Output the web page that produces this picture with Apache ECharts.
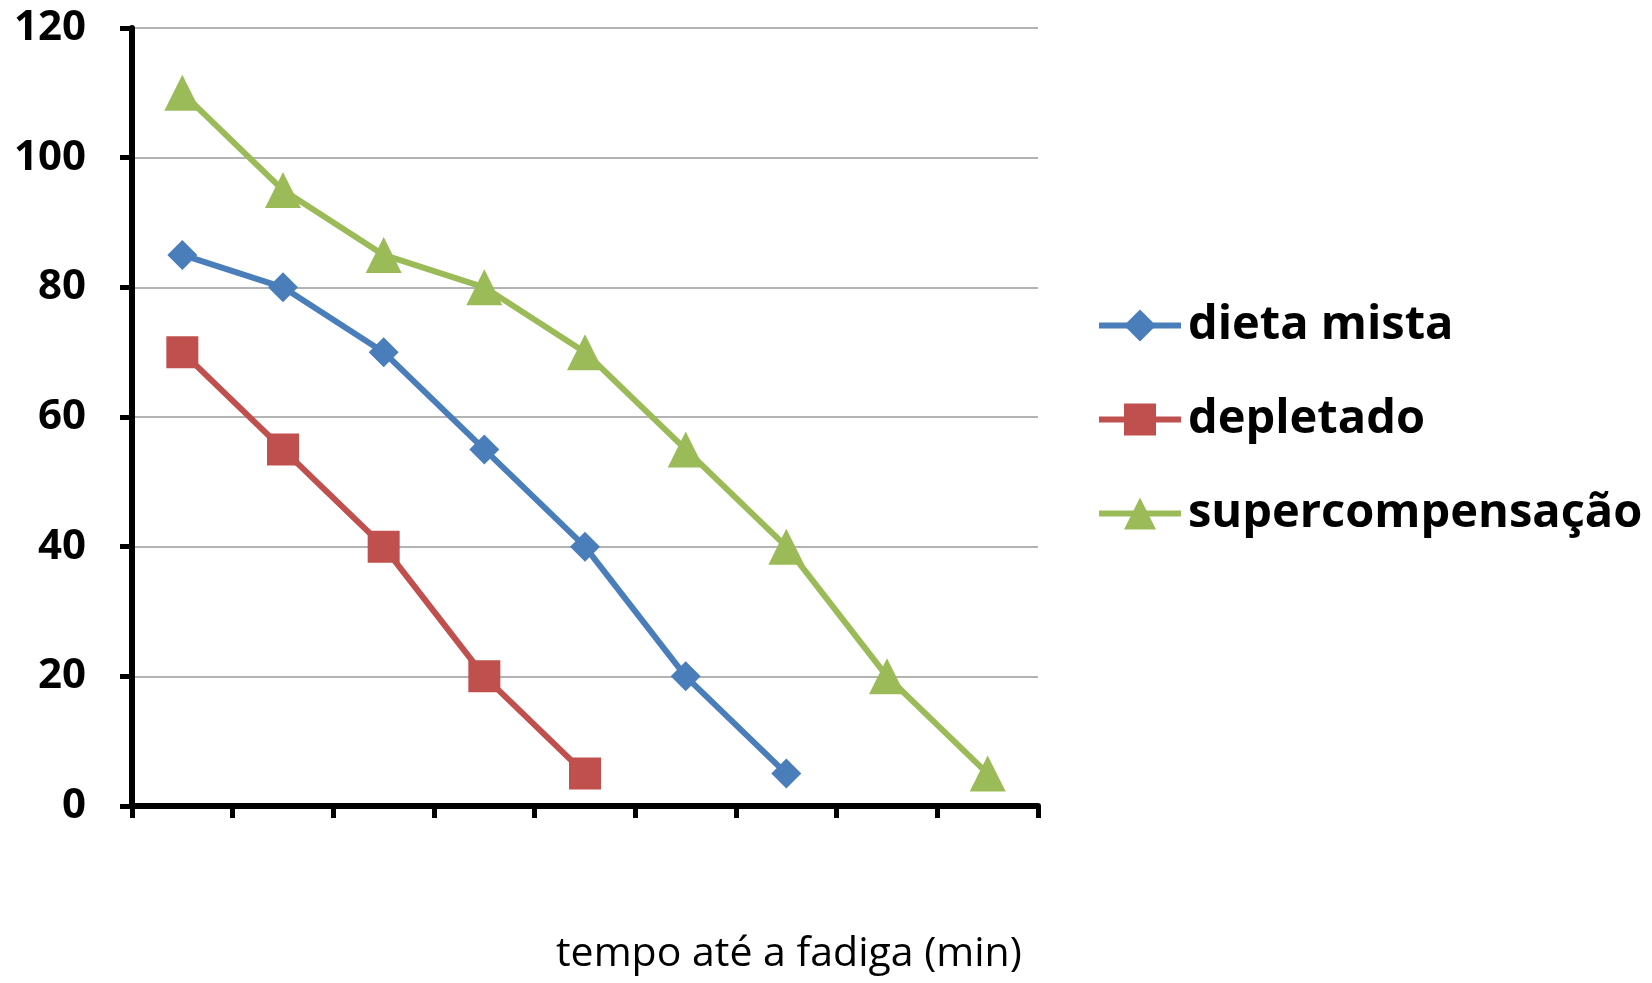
<!DOCTYPE html>
<html>
<head>
<meta charset="utf-8">
<style>
  html, body { margin: 0; padding: 0; background: #fff; }
  #chart { width: 1652px; height: 983px; }
</style>
<script src="https://cdn.jsdelivr.net/npm/echarts@6/dist/echarts.min.js"></script>
</head>
<body>
<div id="chart"></div>
<script>
// Nine time intervals on the x axis (no printed labels)
const categories = ['', '', '', '', '', '', '', '', ''];
// Series values per interval
const dietaMista = [85, 80, 70, 55, 40, 20, 5];
const depletado = [70, 55, 40, 20, 5];
const supercompensacao = [110, 95, 85, 80, 70, 55, 40, 20, 5];
// Value axis ticks
const yTicks = [0, 20, 40, 60, 80, 100, 120];
const xAxisTitle = 'tempo até a fadiga (min)';

const FONT = '"Open Sans", "Noto Sans", sans-serif';

const chart = echarts.init(document.getElementById('chart'), null, { renderer: 'canvas' });

function lineSeries(name, data, color, symbol, size) {
  return {
    name: name,
    type: 'line',
    data: data,
    symbol: symbol,
    symbolSize: size,
    showAllSymbol: true,
    lineStyle: { color: color, width: 6 },
    itemStyle: { color: color },
    emphasis: { disabled: true },
    animation: false
  };
}

chart.setOption({
  backgroundColor: '#ffffff',
  animation: false,
  grid: { left: 132, right: 614, top: 28, bottom: 177, containLabel: false },
  xAxis: {
    type: 'category',
    data: categories,
    boundaryGap: true,
    axisLine: { lineStyle: { color: '#000', width: 6 } },
    axisTick: { show: true, length: 12, inside: false, lineStyle: { color: '#000', width: 5 } },
    axisLabel: { show: false },
    splitLine: { show: false }
  },
  yAxis: {
    type: 'value',
    min: yTicks[0],
    max: yTicks[yTicks.length - 1],
    interval: yTicks[1] - yTicks[0],
    axisLine: { show: true, lineStyle: { color: '#000', width: 6 } },
    axisTick: { show: true, length: 12, lineStyle: { color: '#000', width: 5 } },
    axisLabel: {
      margin: 46,
      color: '#000',
      fontFamily: FONT,
      fontWeight: 'bold',
      fontSize: 42
    },
    splitLine: { show: true, lineStyle: { color: '#9a9a9a', width: 1.5 } }
  },
  legend: {
    orient: 'vertical',
    left: 1091,
    top: 297,
    itemWidth: 82,
    itemHeight: 40,
    itemGap: 47,
    selectedMode: false,
    lineStyle: { width: 6 },
    textStyle: {
      color: '#000',
      fontFamily: FONT,
      fontWeight: 'bold',
      fontSize: 47,
      padding: [0, 0, 0, 2]
    },
    data: ['dieta mista', 'depletado', 'supercompensação']
  },
  graphic: [{
    type: 'text',
    left: 556,
    top: 934,
    style: {
      text: xAxisTitle,
      fill: '#000',
      font: '41px ' + FONT
    }
  }],
  series: [
    lineSeries('dieta mista', dietaMista, '#4a7ebb', 'diamond', 30),
    lineSeries('depletado', depletado, '#c0504d', 'rect', 32),
    lineSeries('supercompensação', supercompensacao, '#9bbb59', 'triangle', 36)
  ]
});
</script>
</body>
</html>
